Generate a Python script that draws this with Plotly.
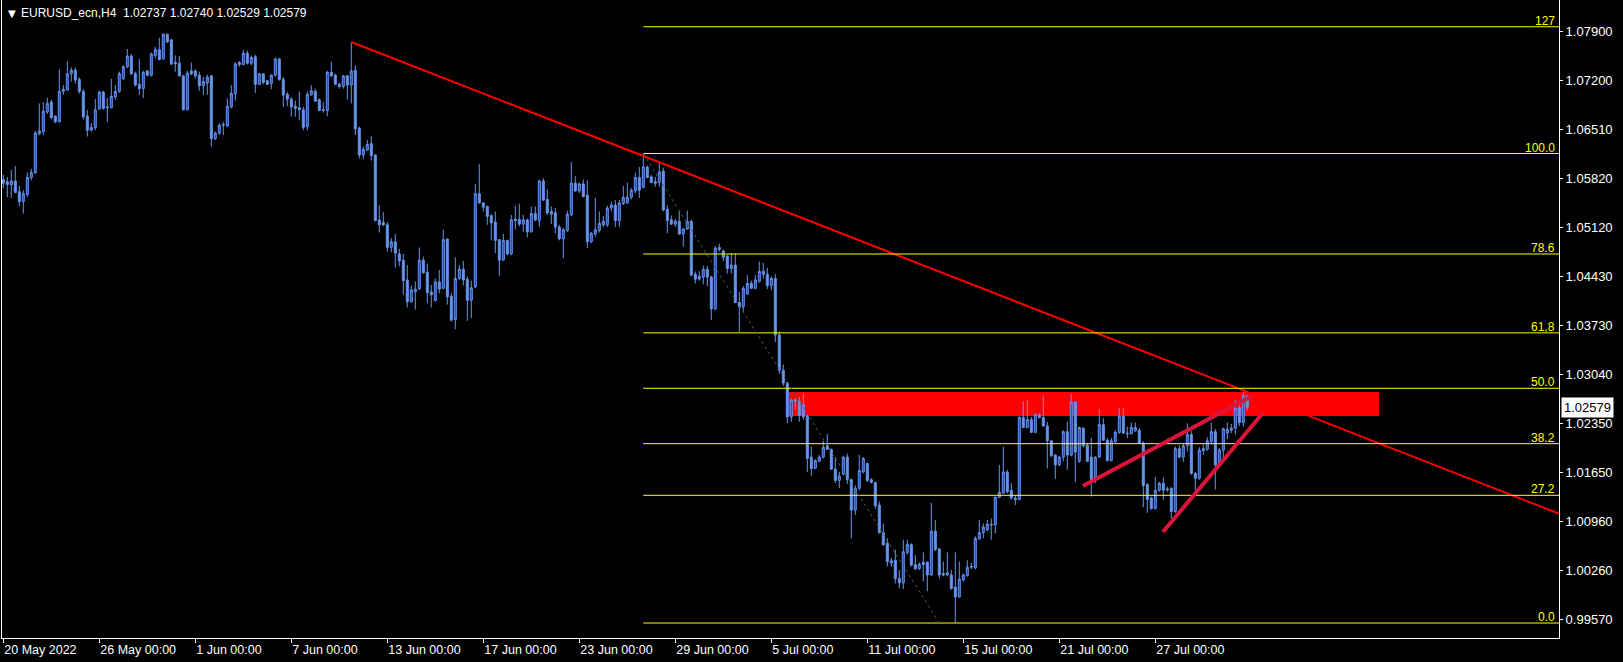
import plotly.graph_objects as go

# ---------------- data ----------------
date_ticks = [0, 24, 48, 72, 96, 120, 144, 168, 192, 216, 240, 264, 288]
date_labels = ["20 May 2022", "26 May 00:00", "1 Jun 00:00", "7 Jun 00:00", "13 Jun 00:00",
               "17 Jun 00:00", "23 Jun 00:00", "29 Jun 00:00", "5 Jul 00:00", "11 Jul 00:00",
               "15 Jul 00:00", "21 Jul 00:00", "27 Jul 00:00"]
price_ticks = [1.07900, 1.07200, 1.06510, 1.05820, 1.05120, 1.04430, 1.03730,
               1.03040, 1.02350, 1.01650, 1.00960, 1.00260, 0.99570]

# EURUSD_ecn H4, one line per trading day (6 bars)
opens = [
    1.0580, 1.0577, 1.0573, 1.0578, 1.0563, 1.0549,
    1.0559, 1.0583, 1.0590, 1.0645, 1.0648, 1.0676,
    1.0690, 1.0670, 1.0662, 1.0705, 1.0707, 1.0730,
    1.0735, 1.0722, 1.0705, 1.0670, 1.0650, 1.0654,
    1.0680, 1.0704, 1.0682, 1.0682, 1.0697, 1.0705,
    1.0723, 1.0740, 1.0755, 1.0730, 1.0715, 1.0709,
    1.0734, 1.0728, 1.0756, 1.0764, 1.0751, 1.0786,
    1.0778, 1.0746, 1.0745, 1.0727, 1.0679, 1.0734,
    1.0734, 1.0728, 1.0713, 1.0717, 1.0727, 1.0638,
    1.0646, 1.0657, 1.0656, 1.0683, 1.0702, 1.0743,
    1.0743, 1.0759, 1.0745, 1.0754, 1.0715, 1.0730,
    1.0720, 1.0716, 1.0728, 1.0751, 1.0722, 1.0701,
    1.0694, 1.0684, 1.0682, 1.0679, 1.0655, 1.0700,
    1.0705, 1.0693, 1.0678, 1.0678, 1.0732, 1.0728,
    1.0715, 1.0712, 1.0727, 1.0714, 1.0735, 1.0653,
    1.0615, 1.0622, 1.0631, 1.0615, 1.0523, 1.0519,
    1.0516, 1.0484, 1.0492, 1.0475, 1.0466, 1.0438,
    1.0407, 1.0421, 1.0425, 1.0466, 1.0449, 1.0421,
    1.0409, 1.0435, 1.0426, 1.0496, 1.0415, 1.0382,
    1.0440, 1.0453, 1.0439, 1.0409, 1.0428, 1.0560,
    1.0547, 1.0542, 1.0529, 1.0520, 1.0495, 1.0466,
    1.0494, 1.0475, 1.0522, 1.0524, 1.0517, 1.0523,
    1.0506, 1.0532, 1.0522, 1.0578, 1.0552, 1.0531,
    1.0533, 1.0513, 1.0496, 1.0508, 1.0530, 1.0575,
    1.0564, 1.0574, 1.0558, 1.0492, 1.0503, 1.0508,
    1.0516, 1.0516, 1.0540, 1.0544, 1.0522, 1.0546,
    1.0547, 1.0555, 1.0564, 1.0583, 1.0569, 1.0598,
    1.0584, 1.0577, 1.0576, 1.0592, 1.0538, 1.0523,
    1.0517, 1.0521, 1.0503, 1.0510, 1.0521, 1.0446,
    1.0439, 1.0442, 1.0453, 1.0442, 1.0397, 1.0481,
    1.0479, 1.0472, 1.0454, 1.0459, 1.0406, 1.0400,
    1.0418, 1.0433, 1.0426, 1.0436, 1.0450, 1.0446,
    1.0430, 1.0440, 1.0360, 1.0310, 1.0292, 1.0244,
    1.0266, 1.0266, 1.0261, 1.0245, 1.0187, 1.0171,
    1.0181, 1.0187, 1.0203, 1.0198, 1.0170, 1.0154,
    1.0163, 1.0187, 1.0155, 1.0112, 1.0143, 1.0166,
    1.0178, 1.0155, 1.0151, 1.0119, 1.0080, 1.0065,
    1.0040, 1.0041, 1.0015, 1.0009, 1.0052, 1.0063,
    1.0035, 1.0029, 1.0035, 1.0038, 1.0020, 1.0082,
    1.0057, 1.0022, 1.0020, 1.0020, 1.0003, 0.9989,
    1.0013, 1.0019, 1.0031, 1.0030, 1.0071, 1.0080,
    1.0084, 1.0092, 1.0091, 1.0130, 1.0136, 1.0166,
    1.0140, 1.0129, 1.0127, 1.0243, 1.0229, 1.0240,
    1.0222, 1.0247, 1.0243, 1.0231, 1.0210, 1.0190,
    1.0176, 1.0187, 1.0223, 1.0190, 1.0265, 1.0181,
    1.0228, 1.0204, 1.0187, 1.0155, 1.0187, 1.0233,
    1.0211, 1.0182, 1.0209, 1.0222, 1.0245, 1.0221,
    1.0220, 1.0224, 1.0225, 1.0207, 1.0148, 1.0129,
    1.0114, 1.0140, 1.0150, 1.0142, 1.0143, 1.0110,
    1.0199, 1.0187, 1.0203, 1.0219, 1.0164, 1.0157,
    1.0196, 1.0198, 1.0209, 1.0223, 1.0176, 1.0197,
    1.0221, 1.0225, 1.0228, 1.0257, 1.0236, 1.02737,
]
highs = [
    1.0587, 1.0584, 1.0594, 1.0599, 1.0571, 1.0565,
    1.0590, 1.0595, 1.0649, 1.0688, 1.0690, 1.0696,
    1.0693, 1.0671, 1.0736, 1.0714, 1.0748, 1.0739,
    1.0739, 1.0725, 1.0708, 1.0679, 1.0660, 1.0694,
    1.0706, 1.0706, 1.0696, 1.0723, 1.0714, 1.0733,
    1.0742, 1.0765, 1.0758, 1.0733, 1.0751, 1.0734,
    1.0735, 1.0760, 1.0768, 1.0781, 1.0787, 1.0787,
    1.0779, 1.0756, 1.0755, 1.0728, 1.0734, 1.0746,
    1.0736, 1.0733, 1.0726, 1.0729, 1.0728, 1.0648,
    1.0660, 1.0662, 1.0695, 1.0714, 1.0746, 1.0748,
    1.0764, 1.0763, 1.0756, 1.0757, 1.0731, 1.0731,
    1.0721, 1.0729, 1.0753, 1.0752, 1.0725, 1.0704,
    1.0697, 1.0692, 1.0705, 1.0683, 1.0705, 1.0714,
    1.0709, 1.0695, 1.0690, 1.0734, 1.0747, 1.0730,
    1.0717, 1.0728, 1.0728, 1.0775, 1.0742, 1.0655,
    1.0627, 1.0636, 1.0642, 1.0616, 1.0544, 1.0534,
    1.0520, 1.0497, 1.0503, 1.0482, 1.0475, 1.0459,
    1.0430, 1.0436, 1.0484, 1.0471, 1.0461, 1.0431,
    1.0440, 1.0452, 1.0509, 1.0497, 1.0419, 1.0470,
    1.0459, 1.0465, 1.0443, 1.0437, 1.0574, 1.0602,
    1.0548, 1.0543, 1.0531, 1.0535, 1.0496, 1.0503,
    1.0495, 1.0530, 1.0543, 1.0546, 1.0530, 1.0525,
    1.0542, 1.0542, 1.0580, 1.0582, 1.0566, 1.0542,
    1.0540, 1.0516, 1.0512, 1.0536, 1.0605, 1.0585,
    1.0576, 1.0580, 1.0579, 1.0506, 1.0554, 1.0535,
    1.0528, 1.0543, 1.0549, 1.0551, 1.0551, 1.0571,
    1.0576, 1.0568, 1.0590, 1.0598, 1.0617, 1.0600,
    1.0587, 1.0584, 1.0606, 1.0597, 1.0544, 1.0529,
    1.0524, 1.0535, 1.0511, 1.0536, 1.0523, 1.0450,
    1.0450, 1.0458, 1.0458, 1.0444, 1.0486, 1.0489,
    1.0481, 1.0473, 1.0476, 1.0476, 1.0421, 1.0429,
    1.0445, 1.0437, 1.0445, 1.0464, 1.0462, 1.0455,
    1.0443, 1.0446, 1.0365, 1.0318, 1.0294, 1.0270,
    1.0270, 1.0272, 1.0277, 1.0247, 1.0202, 1.0184,
    1.0190, 1.0210, 1.0220, 1.0199, 1.0187, 1.0166,
    1.0189, 1.0192, 1.0157, 1.0147, 1.0190, 1.0187,
    1.0179, 1.0157, 1.0152, 1.0124, 1.0093, 1.0072,
    1.0044, 1.0056, 1.0027, 1.0070, 1.0070, 1.0065,
    1.0048, 1.0038, 1.0052, 1.0039, 1.0122, 1.0098,
    1.0058, 1.0039, 1.0052, 1.0027, 1.0052, 1.0039,
    1.0022, 1.0041, 1.0037, 1.0075, 1.0098, 1.0093,
    1.0098, 1.0100, 1.0131, 1.0176, 1.0202, 1.0169,
    1.0150, 1.0133, 1.0245, 1.0266, 1.0268, 1.0244,
    1.0249, 1.0249, 1.0274, 1.0237, 1.0211, 1.0191,
    1.0189, 1.0225, 1.0237, 1.0277, 1.0266, 1.0230,
    1.0229, 1.0206, 1.0214, 1.0188, 1.0255, 1.0242,
    1.0214, 1.0214, 1.0225, 1.0257, 1.0257, 1.0230,
    1.0236, 1.0236, 1.0228, 1.0209, 1.0150, 1.0131,
    1.0159, 1.0152, 1.0158, 1.0145, 1.0144, 1.0202,
    1.0204, 1.0206, 1.0235, 1.0224, 1.0166, 1.0201,
    1.0205, 1.0215, 1.0236, 1.0227, 1.0200, 1.0229,
    1.0236, 1.0234, 1.0268, 1.0262, 1.0279, 1.02740,
]
lows = [
    1.0568, 1.0555, 1.0554, 1.0561, 1.0542, 1.0532,
    1.0555, 1.0579, 1.0588, 1.0643, 1.0643, 1.0673,
    1.0666, 1.0660, 1.0661, 1.0700, 1.0706, 1.0719,
    1.0716, 1.0702, 1.0665, 1.0641, 1.0648, 1.0650,
    1.0679, 1.0679, 1.0662, 1.0681, 1.0693, 1.0703,
    1.0721, 1.0738, 1.0728, 1.0712, 1.0700, 1.0696,
    1.0726, 1.0726, 1.0752, 1.0749, 1.0750, 1.0774,
    1.0742, 1.0733, 1.0726, 1.0678, 1.0678, 1.0728,
    1.0723, 1.0706, 1.0700, 1.0700, 1.0627, 1.0636,
    1.0643, 1.0643, 1.0655, 1.0681, 1.0692, 1.0740,
    1.0742, 1.0743, 1.0742, 1.0703, 1.0714, 1.0715,
    1.0714, 1.0708, 1.0726, 1.0720, 1.0683, 1.0684,
    1.0669, 1.0669, 1.0664, 1.0650, 1.0650, 1.0699,
    1.0690, 1.0677, 1.0675, 1.0670, 1.0725, 1.0714,
    1.0709, 1.0709, 1.0693, 1.0688, 1.0643, 1.0610,
    1.0609, 1.0621, 1.0607, 1.0521, 1.0505, 1.0514,
    1.0478, 1.0477, 1.0455, 1.0457, 1.0417, 1.0399,
    1.0406, 1.0396, 1.0424, 1.0447, 1.0405, 1.0399,
    1.0407, 1.0419, 1.0425, 1.0403, 1.0379, 1.0368,
    1.0438, 1.0430, 1.0380, 1.0384, 1.0426, 1.0546,
    1.0535, 1.0516, 1.0494, 1.0476, 1.0444, 1.0465,
    1.0473, 1.0473, 1.0509, 1.0514, 1.0506, 1.0498,
    1.0505, 1.0521, 1.0513, 1.0550, 1.0530, 1.0517,
    1.0504, 1.0494, 1.0469, 1.0506, 1.0528, 1.0563,
    1.0561, 1.0555, 1.0483, 1.0490, 1.0499, 1.0505,
    1.0513, 1.0513, 1.0535, 1.0513, 1.0513, 1.0544,
    1.0546, 1.0552, 1.0561, 1.0554, 1.0568, 1.0582,
    1.0575, 1.0570, 1.0570, 1.0535, 1.0504, 1.0516,
    1.0513, 1.0502, 1.0485, 1.0509, 1.0443, 1.0433,
    1.0437, 1.0432, 1.0429, 1.0381, 1.0395, 1.0478,
    1.0465, 1.0447, 1.0447, 1.0405, 1.0364, 1.0393,
    1.0417, 1.0425, 1.0425, 1.0434, 1.0440, 1.0425,
    1.0424, 1.0350, 1.0305, 1.0288, 1.0235, 1.0237,
    1.0254, 1.0237, 1.0240, 1.0166, 1.0160, 1.0170,
    1.0180, 1.0185, 1.0197, 1.0169, 1.0150, 1.0143,
    1.0161, 1.0149, 1.0072, 1.0105, 1.0140, 1.0164,
    1.0152, 1.0150, 1.0114, 1.0079, 1.0061, 1.0032,
    1.0032, 1.0008, 1.0001, 1.0000, 1.0049, 1.0032,
    1.0027, 1.0027, 1.0011, 0.9997, 1.0019, 1.0054,
    1.0015, 1.0018, 1.0018, 0.9999, 0.9952, 0.9988,
    1.0011, 1.0018, 1.0028, 1.0028, 1.0070, 1.0072,
    1.0082, 1.0070, 1.0079, 1.0129, 1.0135, 1.0136,
    1.0127, 1.0119, 1.0126, 1.0228, 1.0228, 1.0221,
    1.0221, 1.0242, 1.0230, 1.0171, 1.0187, 1.0156,
    1.0174, 1.0181, 1.0169, 1.0188, 1.0152, 1.0179,
    1.0201, 1.0180, 1.0131, 1.0150, 1.0186, 1.0210,
    1.0181, 1.0181, 1.0207, 1.0220, 1.0220, 1.0214,
    1.0219, 1.0223, 1.0206, 1.0116, 1.0108, 1.0113,
    1.0113, 1.0138, 1.0126, 1.0138, 1.0100, 1.0108,
    1.0185, 1.0180, 1.0195, 1.0162, 1.0140, 1.0155,
    1.0190, 1.0196, 1.0205, 1.0141, 1.0174, 1.0185,
    1.0212, 1.0221, 1.0219, 1.0231, 1.0230, 1.02529,
]
closes = [
    1.0575, 1.0573, 1.0578, 1.0562, 1.0549, 1.0560,
    1.0583, 1.0590, 1.0646, 1.0649, 1.0677, 1.0688,
    1.0668, 1.0662, 1.0705, 1.0708, 1.0730, 1.0735,
    1.0721, 1.0705, 1.0669, 1.0650, 1.0654, 1.0679,
    1.0704, 1.0681, 1.0683, 1.0698, 1.0705, 1.0730,
    1.0740, 1.0755, 1.0730, 1.0714, 1.0709, 1.0732,
    1.0728, 1.0758, 1.0764, 1.0750, 1.0786, 1.0775,
    1.0744, 1.0744, 1.0727, 1.0679, 1.0731, 1.0730,
    1.0727, 1.0713, 1.0719, 1.0725, 1.0638, 1.0646,
    1.0657, 1.0658, 1.0684, 1.0702, 1.0744, 1.0746,
    1.0759, 1.0745, 1.0753, 1.0715, 1.0730, 1.0718,
    1.0715, 1.0728, 1.0751, 1.0722, 1.0700, 1.0694,
    1.0683, 1.0681, 1.0679, 1.0654, 1.0701, 1.0706,
    1.0691, 1.0678, 1.0679, 1.0732, 1.0727, 1.0715,
    1.0712, 1.0727, 1.0714, 1.0734, 1.0652, 1.0615,
    1.0623, 1.0630, 1.0614, 1.0522, 1.0516, 1.0516,
    1.0484, 1.0492, 1.0476, 1.0465, 1.0437, 1.0407,
    1.0424, 1.0425, 1.0466, 1.0448, 1.0420, 1.0417,
    1.0435, 1.0425, 1.0495, 1.0414, 1.0381, 1.0440,
    1.0453, 1.0438, 1.0409, 1.0427, 1.0560, 1.0547,
    1.0541, 1.0528, 1.0519, 1.0494, 1.0466, 1.0494,
    1.0475, 1.0523, 1.0524, 1.0517, 1.0523, 1.0506,
    1.0532, 1.0523, 1.0578, 1.0551, 1.0533, 1.0535,
    1.0513, 1.0496, 1.0509, 1.0531, 1.0575, 1.0564,
    1.0574, 1.0556, 1.0492, 1.0504, 1.0509, 1.0518,
    1.0521, 1.0540, 1.0544, 1.0522, 1.0547, 1.0555,
    1.0555, 1.0565, 1.0583, 1.0565, 1.0598, 1.0583,
    1.0576, 1.0575, 1.0591, 1.0537, 1.0522, 1.0517,
    1.0521, 1.0503, 1.0510, 1.0521, 1.0445, 1.0439,
    1.0443, 1.0453, 1.0442, 1.0397, 1.0483, 1.0484,
    1.0470, 1.0454, 1.0459, 1.0406, 1.0400, 1.0426,
    1.0433, 1.0426, 1.0438, 1.0450, 1.0446, 1.0430,
    1.0440, 1.0360, 1.0310, 1.0292, 1.0244, 1.0268,
    1.0268, 1.0246, 1.0244, 1.0185, 1.0171, 1.0182,
    1.0187, 1.0201, 1.0198, 1.0170, 1.0154, 1.0160,
    1.0187, 1.0155, 1.0112, 1.0143, 1.0168, 1.0185,
    1.0154, 1.0151, 1.0118, 1.0080, 1.0063, 1.0039,
    1.0037, 1.0015, 1.0009, 1.0053, 1.0063, 1.0034,
    1.0029, 1.0035, 1.0038, 1.0020, 1.0082, 1.0056,
    1.0020, 1.0020, 1.0023, 1.0001, 0.9989, 1.0014,
    1.0020, 1.0031, 1.0032, 1.0072, 1.0080, 1.0088,
    1.0092, 1.0091, 1.0130, 1.0137, 1.0166, 1.0138,
    1.0129, 1.0127, 1.0243, 1.0229, 1.0240, 1.0222,
    1.0247, 1.0243, 1.0231, 1.0210, 1.0189, 1.0176,
    1.0187, 1.0223, 1.0190, 1.0265, 1.0194, 1.0229,
    1.0203, 1.0181, 1.0155, 1.0187, 1.0233, 1.0211,
    1.0182, 1.0210, 1.0222, 1.0245, 1.0221, 1.0220,
    1.0229, 1.0229, 1.0207, 1.0147, 1.0127, 1.0114,
    1.0140, 1.0150, 1.0140, 1.0141, 1.0110, 1.0199,
    1.0187, 1.0203, 1.0219, 1.0164, 1.0157, 1.0197,
    1.0199, 1.0210, 1.0223, 1.0176, 1.0197, 1.0227,
    1.0226, 1.0228, 1.0256, 1.0236, 1.0274, 1.02579,
]

# Fibonacci retracement (high bar 160 -> low)
fib_start_bar = 160
fib_end_bar = 234
fib_high = 1.0617
fib_low = 0.9952
fib_levels = [0.0, 27.2, 38.2, 50.0, 61.8, 78.6, 100.0, 127.0]
fib_labels = ["0.0", "27.2", "38.2", "50.0", "61,8", "78.6", "100.0", "127"]

# drawn objects
trend_x = [87, 388.9]
trend_y = [1.0775, 1.0107]
wedge_upper_x = [269.9, 312.2]
wedge_upper_y = [1.01461, 1.02736]
wedge_lower_x = [289.9, 314.9]
wedge_lower_y = [1.00809, 1.02495]
zone_x = [196.4, 343.9]
zone_y = [1.02452, 1.02792]
bid_price = 1.02579
title_symbol = "EURUSD_ecn,H4"
title_ohlc = "1.02737 1.02740 1.02529 1.02579"

# ---------------- figure ----------------
bars = list(range(len(closes)))
BLUE = "#6495ED"
FONT = "Liberation Sans, Arial"

fig = go.Figure()

fig.add_trace(go.Candlestick(
    x=bars, open=opens, high=highs, low=lows, close=closes,
    increasing=dict(line=dict(color=BLUE, width=1), fillcolor="#1A3FE0"),
    decreasing=dict(line=dict(color=BLUE, width=1), fillcolor=BLUE),
    whiskerwidth=0, hoverinfo="skip", showlegend=False,
))

# trend line (red)
fig.add_trace(go.Scatter(x=trend_x, y=trend_y, mode="lines",
                         line=dict(color="#FF0000", width=2), hoverinfo="skip", showlegend=False))

# fib levels
fx, fy = [], []
for r in fib_levels:
    p = fib_low + r / 100.0 * (fib_high - fib_low)
    fx += [fib_start_bar, 400, None]
    fy += [p, p, None]
fig.add_trace(go.Scatter(x=fx, y=fy, mode="lines", line=dict(color="#FFFF00", width=1),
                         hoverinfo="skip", showlegend=False))
# fib diagonal
fig.add_trace(go.Scatter(x=[fib_start_bar, fib_end_bar], y=[fib_high, fib_low], mode="lines",
                         line=dict(color="#3E6060", width=1, dash="dot"),
                         hoverinfo="skip", showlegend=False))

# wedge lines (crimson)
for wx, wy in [(wedge_upper_x, wedge_upper_y), (wedge_lower_x, wedge_lower_y)]:
    fig.add_trace(go.Scatter(x=wx, y=wy, mode="lines", line=dict(color="#DC143C", width=4),
                             hoverinfo="skip", showlegend=False))

# zone rectangle + bid line (behind candles)
fig.add_shape(type="rect", xref="x", yref="y", x0=zone_x[0], x1=zone_x[1],
              y0=zone_y[0], y1=zone_y[1], fillcolor="#FF0000", line=dict(width=0), layer="below")
fig.add_shape(type="line", xref="paper", yref="y", x0=0, x1=1, y0=bid_price, y1=bid_price,
              line=dict(color="#000000", width=1), layer="below")

annotations = []
for r, t in zip(fib_levels, fib_labels):
    p = fib_low + r / 100.0 * (fib_high - fib_low)
    annotations.append(dict(text=t, xref="paper", yref="y", x=1, y=p, xanchor="right",
                            yanchor="bottom", xshift=-2, yshift=-3, showarrow=False,
                            font=dict(color="#FFFF00", size=12, family=FONT)))
# title
annotations.append(dict(text="▼", xref="paper", yref="paper", x=0, y=1, xanchor="left",
                        yanchor="middle", xshift=4, yshift=-13, showarrow=False,
                        font=dict(color="white", size=10, family="DejaVu Sans")))
annotations.append(dict(text=title_symbol, xref="paper", yref="paper", x=0, y=1, xanchor="left",
                        yanchor="middle", xshift=17, yshift=-13, showarrow=False,
                        font=dict(color="white", size=12, family=FONT)))
annotations.append(dict(text=title_ohlc, xref="paper", yref="paper", x=0, y=1, xanchor="left",
                        yanchor="middle", xshift=119, yshift=-13, showarrow=False,
                        font=dict(color="white", size=12, family=FONT)))
# current price box
annotations.append(dict(text=f"{bid_price:.5f}", xref="paper", yref="y", x=1, y=bid_price,
                        xanchor="left", yanchor="middle", xshift=2, showarrow=False,
                        bgcolor="white", borderpad=2,
                        font=dict(color="black", size=13, family=FONT)))

fig.update_layout(
    width=1623, height=662,
    margin=dict(l=2, r=64, t=0, b=24, pad=0),
    paper_bgcolor="black", plot_bgcolor="black",
    showlegend=False, hovermode=False,
    boxgap=0.5, boxgroupgap=0,
    font=dict(family=FONT, color="white", size=12),
    annotations=annotations,
)
fig.update_xaxes(
    range=[-0.325, 388.925], tickmode="array", tickvals=date_ticks, ticktext=date_labels,
    ticks="outside", ticklen=4, tickcolor="white", tickwidth=1,
    ticklabelposition="outside right",
    tickfont=dict(family=FONT, size=12.5, color="white"),
    showline=True, linecolor="white", linewidth=1, mirror=True,
    showgrid=False, zeroline=False, rangeslider=dict(visible=False), automargin=False,
)
fig.update_yaxes(
    range=[0.993078, 1.083446], side="right", tickmode="array", tickvals=price_ticks,
    ticktext=[f"{v:.5f}" for v in price_ticks],
    ticks="outside", ticklen=3, tickcolor="white", tickwidth=1,
    tickfont=dict(family=FONT, size=13, color="white"),
    showline=True, linecolor="white", linewidth=1, mirror=True,
    showgrid=False, zeroline=False, automargin=False,
)

fig.write_html(
    "out.html",
    config={"displayModeBar": False},
    post_script="document.body.style.margin='0';document.body.style.padding='0';"
                "document.body.style.background='black';document.body.style.overflow='hidden';",
)
